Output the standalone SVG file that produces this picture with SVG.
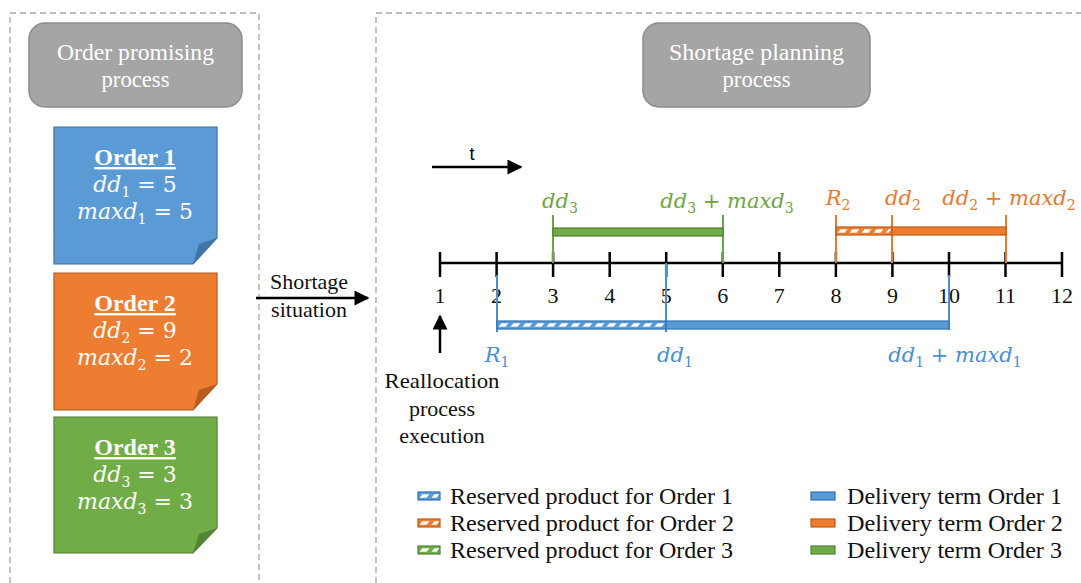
<svg xmlns="http://www.w3.org/2000/svg" width="1081" height="583" viewBox="0 0 1081 583">
<defs>
<style>
.frame{fill:none;stroke:#a6a6a6;stroke-width:1.3;stroke-dasharray:6 4}
.gray{fill:#a5a5a5;stroke:#8c8c8c;stroke-width:1.5}
.ttl{font-family:"Liberation Serif",serif;font-size:23px;fill:#fff;text-anchor:middle}
.ser{font-family:"Liberation Serif",serif;font-size:22px;fill:#111}
.leg{font-family:"Liberation Serif",serif;font-size:23px;fill:#111}
.mid{text-anchor:middle}
.ord{font-family:"Liberation Serif",serif;font-weight:bold;font-size:24px;fill:#fff;text-anchor:middle;text-decoration:underline}
.nm{font-family:"DejaVu Serif",serif;font-size:22px;fill:#fff;text-anchor:middle}
.tm{font-family:"DejaVu Serif",serif;font-size:21px;text-anchor:middle}
.i{font-style:italic}
.sub{font-size:14px}
.blue{fill:#4a8fd0}.orange{fill:#e57a30}.green{fill:#6ea544}
.ln{stroke-width:2;fill:none}
.bl{stroke:#4a8fd0}.ol{stroke:#e57a30}.gl{stroke:#6ea544}
.hatch{stroke:#fff;stroke-width:3.5;stroke-dasharray:7 5;fill:none}
.axis{stroke:#000;stroke-width:2.5;fill:none}
.conn{stroke:#000;stroke-width:2.5;fill:none}
</style>
<marker id="ah" viewBox="0 0 10 10" refX="9" refY="5" markerUnits="userSpaceOnUse" markerWidth="16" markerHeight="15" orient="auto">
<path d="M0,0 L10,5 L0,10 z" fill="#000"/>
</marker>
</defs>
<rect width="1081" height="583" fill="#fff"/>

<g id="frames">
<path class="frame" d="M10,583 V13 H259 V583"/>
<path class="frame" d="M376,583 V13 H1081"/>
</g>

<g id="order-promising-process">
<rect class="gray" x="29" y="23" width="213" height="84" rx="16"/>
<text class="ttl" x="135.5" y="60" textLength="157" lengthAdjust="spacingAndGlyphs">Order promising</text>
<text class="ttl" x="135.5" y="87" textLength="68" lengthAdjust="spacingAndGlyphs">process</text>
</g>

<g id="shortage-planning-process">
<rect class="gray" x="643" y="23" width="227" height="84" rx="16"/>
<text class="ttl" x="756.5" y="60" textLength="175" lengthAdjust="spacingAndGlyphs">Shortage planning</text>
<text class="ttl" x="756.5" y="87" textLength="68" lengthAdjust="spacingAndGlyphs">process</text>
</g>

<g id="order1">
<path d="M54,127 H217 V238 L193,264 H54 Z" fill="#5b9bd5" stroke="#41719c" stroke-width="1.2"/>
<polygon points="193,264 217,238 199,244" fill="#3f75a8"/>
<text class="ord" x="135" y="165">Order 1</text>
<text class="nm" x="135" y="192"><tspan class="i">dd</tspan><tspan class="sub" dy="5">1</tspan><tspan dy="-5"> = 5</tspan></text>
<text class="nm" x="135" y="219"><tspan class="i">maxd</tspan><tspan class="sub" dy="5">1</tspan><tspan dy="-5"> = 5</tspan></text>
</g>

<g id="order2">
<path d="M54,273 H217 V384 L193,410 H54 Z" fill="#ed7d31" stroke="#ae5a21" stroke-width="1.2"/>
<polygon points="193,410 217,384 199,390" fill="#b85d1f"/>
<text class="ord" x="135" y="311">Order 2</text>
<text class="nm" x="135" y="338"><tspan class="i">dd</tspan><tspan class="sub" dy="5">2</tspan><tspan dy="-5"> = 9</tspan></text>
<text class="nm" x="135" y="365"><tspan class="i">maxd</tspan><tspan class="sub" dy="5">2</tspan><tspan dy="-5"> = 2</tspan></text>
</g>

<g id="order3">
<path d="M54,417 H217 V528 L193,553 H54 Z" fill="#70ad47" stroke="#507e32" stroke-width="1.2"/>
<polygon points="193,553 217,528 199,534" fill="#548535"/>
<text class="ord" x="135" y="455">Order 3</text>
<text class="nm" x="135" y="482"><tspan class="i">dd</tspan><tspan class="sub" dy="5">3</tspan><tspan dy="-5"> = 3</tspan></text>
<text class="nm" x="135" y="509"><tspan class="i">maxd</tspan><tspan class="sub" dy="5">3</tspan><tspan dy="-5"> = 3</tspan></text>
</g>

<g id="shortage-label">
<text class="ser mid" x="309" y="289">Shortage</text>
<text class="ser mid" x="309" y="317">situation</text>
</g>

<g id="time-label">
<text x="472" y="160" font-family="Liberation Sans, sans-serif" font-size="18" fill="#000" text-anchor="middle">t</text>
</g>

<g id="timeline">
<line class="axis" x1="440" y1="263" x2="1062" y2="263"/>
<path class="axis" d="M440,252V277 M496.6,252V277 M553.1,252V277 M609.7,252V277 M666.2,252V277 M722.8,252V277 M779.3,252V277 M835.9,252V277 M892.4,252V277 M949,252V277 M1005.5,252V277 M1062,252V277"/>
<g class="ser mid">
<text x="440" y="303">1</text><text x="496.6" y="303">2</text><text x="553.1" y="303">3</text><text x="609.7" y="303">4</text><text x="666.2" y="303">5</text><text x="722.8" y="303">6</text><text x="779.3" y="303">7</text><text x="835.9" y="303">8</text><text x="892.4" y="303">9</text><text x="949" y="303">10</text><text x="1005.5" y="303">11</text><text x="1062" y="303">12</text>
</g>
</g>

<g id="order3-bar">
<path class="ln gl" d="M553,215V263 M723,215V263"/>
<rect x="553" y="228" width="170" height="8" fill="#70ad47" stroke="#548235" stroke-width="1.2"/>
<text class="tm green" x="560" y="208"><tspan class="i">dd</tspan><tspan class="sub" dy="5">3</tspan></text>
<text class="tm green" x="727" y="208"><tspan class="i">dd</tspan><tspan class="sub" dy="5">3</tspan><tspan dy="-5"> + </tspan><tspan class="i">maxd</tspan><tspan class="sub" dy="5">3</tspan></text>
</g>

<g id="order2-bar">
<path class="ln ol" d="M836,215V263 M892,215V263 M1006,215V263"/>
<rect x="836" y="227" width="56" height="8" fill="#ed7d31" stroke="#c55a11" stroke-width="1.2"/>
<g transform="translate(0,231) skewX(-40)"><line class="hatch" x1="839" y1="0" x2="890" y2="0"/></g>
<rect x="892" y="227" width="114" height="8" fill="#ed7d31" stroke="#c55a11" stroke-width="1.2"/>
<text class="tm orange" x="838" y="205"><tspan class="i">R</tspan><tspan class="sub" dy="5">2</tspan></text>
<text class="tm orange" x="903" y="205"><tspan class="i">dd</tspan><tspan class="sub" dy="5">2</tspan></text>
<text class="tm orange" x="1009" y="205"><tspan class="i">dd</tspan><tspan class="sub" dy="5">2</tspan><tspan dy="-5"> + </tspan><tspan class="i">maxd</tspan><tspan class="sub" dy="5">2</tspan></text>
</g>

<g id="order1-bar">
<path class="ln bl" d="M497,275V332 M666,263V332 M949,275V330"/>
<rect x="497" y="321" width="169" height="8" fill="#5b9bd5" stroke="#2e75b6" stroke-width="1.2"/>
<g transform="translate(0,325) skewX(-40)"><line class="hatch" x1="500" y1="0" x2="664" y2="0"/></g>
<rect x="666" y="321" width="283" height="8" fill="#5b9bd5" stroke="#2e75b6" stroke-width="1.2"/>
<text class="tm blue" x="497" y="362"><tspan class="i">R</tspan><tspan class="sub" dy="5">1</tspan></text>
<text class="tm blue" x="675" y="362"><tspan class="i">dd</tspan><tspan class="sub" dy="5">1</tspan></text>
<text class="tm blue" x="955" y="362"><tspan class="i">dd</tspan><tspan class="sub" dy="5">1</tspan><tspan dy="-5"> + </tspan><tspan class="i">maxd</tspan><tspan class="sub" dy="5">1</tspan></text>
</g>

<g id="reallocation-label">
<text class="ser mid" x="442" y="388" textLength="115" lengthAdjust="spacingAndGlyphs">Reallocation</text>
<text class="ser mid" x="442" y="416">process</text>
<text class="ser mid" x="442" y="443">execution</text>
</g>

<g id="connectors">
<line class="conn" x1="256" y1="298" x2="368" y2="298" marker-end="url(#ah)"/>
<line class="conn" x1="432" y1="167" x2="521" y2="167" marker-end="url(#ah)"/>
<line class="conn" x1="440" y1="353" x2="440" y2="316" marker-end="url(#ah)"/>
</g>

<g id="legend">
<g>
<rect x="418" y="492" width="22" height="8" fill="#5b9bd5" stroke="#2e75b6" stroke-width="1.2"/>
<g transform="translate(0,496) skewX(-40)"><line class="hatch" x1="421" y1="0" x2="438" y2="0" stroke-dasharray="10 3"/></g>
<text class="leg" x="450" y="504" textLength="283" lengthAdjust="spacingAndGlyphs">Reserved product for Order 1</text>
</g>
<g>
<rect x="418" y="519" width="22" height="8" fill="#ed7d31" stroke="#c55a11" stroke-width="1.2"/>
<g transform="translate(0,523) skewX(-40)"><line class="hatch" x1="421" y1="0" x2="438" y2="0" stroke-dasharray="10 3"/></g>
<text class="leg" x="450" y="531" textLength="284" lengthAdjust="spacingAndGlyphs">Reserved product for Order 2</text>
</g>
<g>
<rect x="418" y="546" width="22" height="8" fill="#70ad47" stroke="#548235" stroke-width="1.2"/>
<g transform="translate(0,550) skewX(-40)"><line class="hatch" x1="421" y1="0" x2="438" y2="0" stroke-dasharray="10 3"/></g>
<text class="leg" x="450" y="558" textLength="283" lengthAdjust="spacingAndGlyphs">Reserved product for Order 3</text>
</g>
<g>
<rect x="811" y="492" width="24" height="8" fill="#5b9bd5" stroke="#2e75b6" stroke-width="1.2"/>
<text class="leg" x="847" y="504" textLength="215" lengthAdjust="spacingAndGlyphs">Delivery term Order 1</text>
</g>
<g>
<rect x="811" y="519" width="24" height="8" fill="#ed7d31" stroke="#c55a11" stroke-width="1.2"/>
<text class="leg" x="847" y="531" textLength="216" lengthAdjust="spacingAndGlyphs">Delivery term Order 2</text>
</g>
<g>
<rect x="811" y="546" width="24" height="8" fill="#70ad47" stroke="#548235" stroke-width="1.2"/>
<text class="leg" x="847" y="558" textLength="215" lengthAdjust="spacingAndGlyphs">Delivery term Order 3</text>
</g>
</g>
</svg>
